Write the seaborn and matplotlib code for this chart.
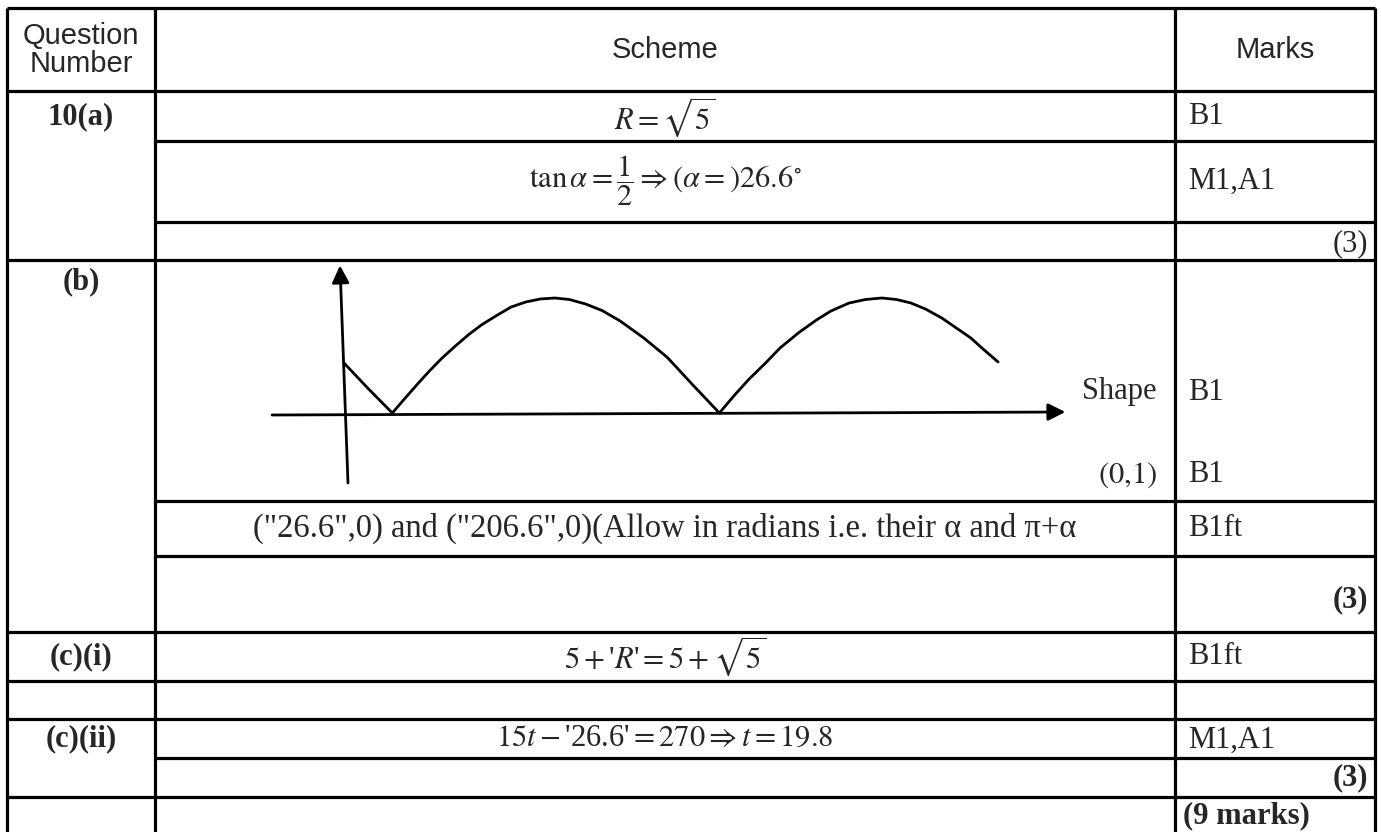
import matplotlib
matplotlib.use("Agg")
import matplotlib.pyplot as plt
import seaborn as sns
import pandas as pd

# --- content of the mark scheme table ---
question_labels = ["10(a)", "(b)", "(c)(i)", "(c)(ii)"]
header_labels = ["Question\nNumber", "Scheme", "Marks"]

scheme_lines = [
    r"$R=\sqrt{5}$",
    r"$\tan\alpha=\dfrac{1}{2}\Rightarrow\left(\alpha=\right)26.6^{\circ}$",
    '("26.6",0) and ("206.6",0)(Allow in radians i.e. their \u03b1 and \u03c0+\u03b1',
    r"$5+$'$R$'$=5+\sqrt{5}$",
    r"$15t-$'26.6'$=270\Rightarrow t=19.8$",
]
sketch_notes = ["Shape", r"$\left(0{,}1\right)$"]
mark_codes = ["B1", "M1,A1", "B1", "B1", "B1ft", "B1ft", "M1,A1"]
subtotals = ["(3)", "(3)", "(3)"]
total_label = "(9 marks)"

# sketch of y = |sqrt5 sin(x - 26.6)| as drawn (degrees, height)
sketch_deg = [0, 13, 26.6, 33, 40, 47, 54, 61, 69, 76, 84, 92, 100, 108, 116, 124, 133, 142,
              152, 165, 178, 192, 206.6, 215, 223, 232, 240, 250, 260, 268, 278, 287, 296,
              304, 312, 320, 329, 337, 345, 352, 360]
sketch_val = [1.0, 0.5, 0.0, 0.27, 0.56, 0.84, 1.1, 1.33, 1.58, 1.77, 1.95, 2.12, 2.22, 2.28,
              2.3, 2.27, 2.18, 2.05, 1.84, 1.5, 1.11, 0.56, 0.0, 0.36, 0.68, 1.0, 1.3, 1.6,
              1.86, 2.04, 2.2, 2.27, 2.3, 2.27, 2.2, 2.08, 1.9, 1.7, 1.5, 1.27, 1.02]

sns.set_theme(style="white")
plt.rcParams["font.family"] = ["Liberation Serif", "DejaVu Serif"]
plt.rcParams["mathtext.fontset"] = "stix"

fig = plt.figure(figsize=(13.81, 8.32), dpi=100)
fig.patch.set_facecolor("white")
ax = fig.add_axes([0, 0, 1, 1])
ax.set_xlim(0, 1381)
ax.set_ylim(832, 0)
ax.axis("off")

# table grid (pixel layout)
col_x = [7, 155, 1175, 1375]
full_rows = [8, 91, 260, 632, 681, 719, 797]
inner_rows = [141, 222, 501, 556, 758]
lw = 2.3
ax.hlines(full_rows, col_x[0], col_x[-1], color="black", lw=lw)
ax.hlines(inner_rows, col_x[1], col_x[-1], color="black", lw=lw)
ax.vlines(col_x, 8, 832, color="black", lw=lw)

# header
head_x = [81, 665, 1275]
for x, lab in zip(head_x, header_labels):
    ax.text(x, 50, lab, family="Liberation Sans", fontsize=21, ha="center", va="center",
            linespacing=1.0)

# question numbers
q_y = [117, 282, 657, 739]
for y, lab in zip(q_y, question_labels):
    ax.text(81, y, lab, fontsize=22, fontweight="bold", ha="center", va="center")

# scheme column
s_y = [117, 181, 528, 656, 738]
s_size = [22, 22, 23.5, 22, 22]
for y, lab, fs in zip(s_y, scheme_lines, s_size):
    ax.text(665, y, lab, fontsize=fs, ha="center", va="center")

note_y = [392, 475]
for y, lab in zip(note_y, sketch_notes):
    ax.text(1157, y, lab, fontsize=22, ha="right", va="center")

# marks column
m_y = [117, 181, 392, 475, 528, 656, 740]
for y, lab in zip(m_y, mark_codes):
    ax.text(1188, y, lab, fontsize=22, ha="left", va="center")

sub_y = [244, 600, 778]
sub_bold = ["normal", "bold", "bold"]
for y, lab, w in zip(sub_y, subtotals, sub_bold):
    ax.text(1368, y, lab, fontsize=22, fontweight=w, ha="right", va="center")
ax.text(1183, 816, total_label, fontsize=22, fontweight="bold", ha="left", va="center")

# sketch in part (b)
sk = fig.add_axes([250 / 1381, (832 - 500) / 832, 850 / 1381, 238 / 832])
sk.set_xlim(-51.73, 416.07)
sk.set_ylim(-1.74, 3.02)
sk.axis("off")
sk.patch.set_alpha(0)

curve = pd.DataFrame({"deg": sketch_deg, "val": sketch_val})
sns.lineplot(data=curve, x="deg", y="val", ax=sk, color="black", lw=2.0, sort=False)

arrow = dict(arrowstyle="-|>", color="black", lw=2.0, mutation_scale=26, shrinkA=0, shrinkB=0)
sk.annotate("", xy=(397, 0.02), xytext=(-39.6, -0.04), arrowprops=arrow)
sk.annotate("", xy=(-2.2, 2.95), xytext=(2.2, -1.4), arrowprops=arrow)

fig.savefig("out.png", dpi=100, facecolor="white")
